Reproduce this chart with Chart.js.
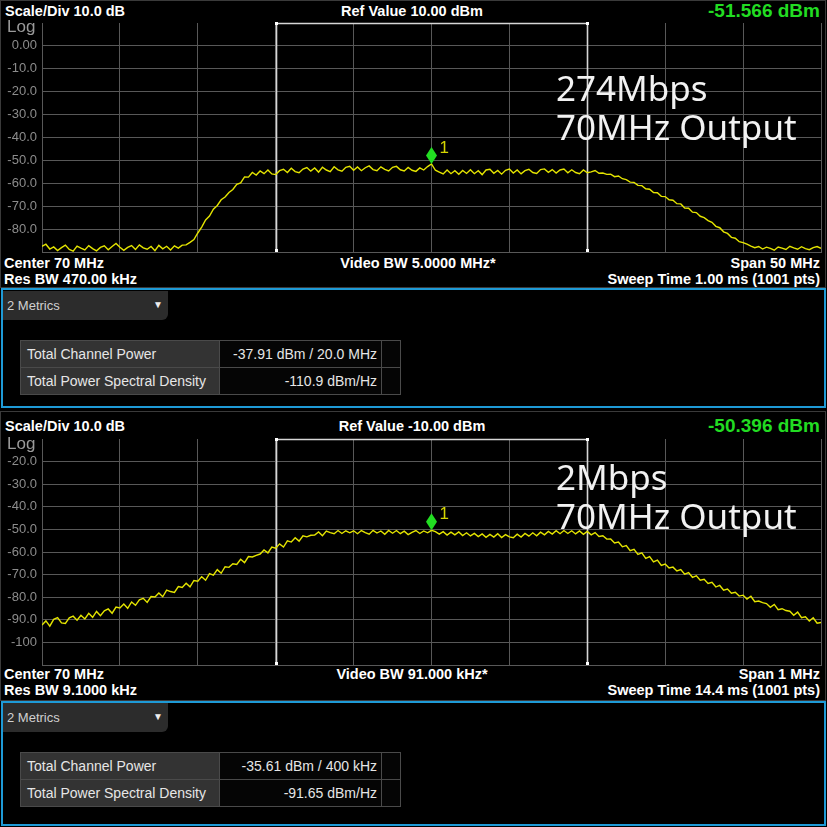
<!DOCTYPE html>
<html>
<head>
<meta charset="utf-8">
<title>70 MHz output spectrum</title>
<script src="https://cdn.jsdelivr.net/npm/chart.js@4.4.1/dist/chart.umd.min.js"></script>
<style>
  html, body { margin:0; padding:0; background:#000; }
  #screen { position:relative; width:827px; height:827px; background:#000; overflow:hidden;
            font-family:"Liberation Sans", Arial, sans-serif; }
  .frame { position:absolute; box-sizing:border-box; border:1px solid #3a3a3a; }
  .metricsFrame { position:absolute; box-sizing:border-box; border:2px solid #1e9ad6; }
  .lbl { position:absolute; white-space:nowrap; color:#fff; font-weight:bold; font-size:14.5px; line-height:16px; }
  .ctr { transform:translateX(-50%); }
  .readout { position:absolute; right:7px; white-space:nowrap; color:#22dc22; font-weight:bold; font-size:19px; line-height:20px; }
  .log { position:absolute; left:7px; color:#9a9a9a; font-size:17px; line-height:18px; }
  .note { position:absolute; left:556px; color:#f2f2f2; font-family:"Noto Sans", sans-serif; font-size:35px; line-height:39px; white-space:nowrap; }
  canvas { position:absolute; left:0; }
  .dd { position:absolute; left:3px; width:165px; height:29px; background:#2c2c2c; border-radius:0 0 6px 0; }
  .dd span { position:absolute; left:4px; top:7px; font-size:13px; line-height:15px; color:#d0d0d0; }
  .dd i { position:absolute; right:5px; top:8px; font-style:normal; font-size:10px; line-height:12px; color:#eee; }
  table.mt { position:absolute; left:20px; border-collapse:collapse; table-layout:fixed; }
  table.mt td { border:1px solid #4a4a4a; font-size:14px; color:#e6e6e6; white-space:nowrap; padding:0; }
  table.mt td.n { width:192px; padding-left:6px; background:#333; }
  table.mt td.v { width:157px; padding-right:4px; text-align:right; background:#050505; }
  table.mt td.e { width:18px; background:#050505; }
  table.mt tr { height:27px; }
</style>
</head>
<body>
<div id="screen">
  <!-- upper trace window -->
  <div class="frame" style="left:0;top:0;width:826px;height:288px;"></div>
  <canvas id="topChart" width="827" height="231" style="top:22px;"></canvas>
  <div class="lbl" id="topScale" style="left:5px;top:3px;"></div>
  <div class="lbl ctr" id="topRef" style="left:412px;top:3px;"></div>
  <div class="readout" id="topReadout" style="top:1px;"></div>
  <div class="log" style="top:18px;">Log</div>
  <div class="lbl" id="topCenter" style="left:4px;top:255px;"></div>
  <div class="lbl ctr" id="topVbw" style="left:418px;top:255px;"></div>
  <div class="lbl" id="topSpan" style="right:7px;top:255px;"></div>
  <div class="lbl" id="topRbw" style="left:4px;top:271px;"></div>
  <div class="lbl" id="topSweep" style="right:7px;top:271px;"></div>
  <div class="note" id="topNote" style="top:68px;"></div>

  <!-- upper metrics window -->
  <div class="metricsFrame" style="left:1px;top:288px;width:825px;height:120px;"></div>
  <div class="dd" style="top:291px;"><span>2 Metrics</span><i>▼</i></div>
  <table class="mt" id="topTable" style="top:340px;"></table>

  <!-- lower trace window -->
  <div class="frame" style="left:0;top:411px;width:826px;height:290px;"></div>
  <canvas id="botChart" width="827" height="228" style="top:438px;"></canvas>
  <div class="lbl" id="botScale" style="left:5px;top:418px;"></div>
  <div class="lbl ctr" id="botRef" style="left:412px;top:418px;"></div>
  <div class="readout" id="botReadout" style="top:416px;"></div>
  <div class="log" style="top:435px;">Log</div>
  <div class="lbl" id="botCenter" style="left:4px;top:666px;"></div>
  <div class="lbl ctr" id="botVbw" style="left:412px;top:666px;"></div>
  <div class="lbl" id="botSpan" style="right:7px;top:666px;"></div>
  <div class="lbl" id="botRbw" style="left:4px;top:682px;"></div>
  <div class="lbl" id="botSweep" style="right:7px;top:682px;"></div>
  <div class="note" id="botNote" style="top:457px;"></div>

  <!-- lower metrics window -->
  <div class="metricsFrame" style="left:1px;top:701px;width:825px;height:125px;"></div>
  <div class="dd" style="top:703px;"><span>2 Metrics</span><i>▼</i></div>
  <table class="mt" id="botTable" style="top:752px;"></table>
</div>

<script>
// ---- Sweep settings -------------------------------------------------------
const CENTER_MHZ = 70;
const TOP_START_MHZ = 45,   TOP_SPAN_MHZ = 50;    // Span 50 MHz
const BOT_START_MHZ = 69.5, BOT_SPAN_MHZ = 1;     // Span 1 MHz
const TOP_CHANNEL_MHZ = 20.0;                     // integration bandwidth
const BOT_CHANNEL_MHZ = 0.4;

const TOP_Y_MIN = -90,  TOP_Y_MAX = 10;
const BOT_Y_MIN = -110, BOT_Y_MAX = -10;

// y tick labels (the reference level row is labelled "Log" instead)
const TOP_Y_VALUES = [0, -10, -20, -30, -40, -50, -60, -70, -80];
const TOP_Y_LABELS = ['0.00', '-10.0', '-20.0', '-30.0', '-40.0', '-50.0', '-60.0', '-70.0', '-80.0'];
const BOT_Y_VALUES = [-20, -30, -40, -50, -60, -70, -80, -90, -100];
const BOT_Y_LABELS = ['-20.0', '-30.0', '-40.0', '-50.0', '-60.0', '-70.0', '-80.0', '-90.0', '-100'];

// ---- Trace levels, dBm (sweep decimated to 201 points, centre = index 100) ----
const TOP_LEVELS = [
  -87.5,-86.6,-88.7,-87.8,-89.4,-88.1,-87.0,-88.9,-89.6,-87.4,
  -88.3,-89.1,-87.2,-88.5,-89.5,-88.0,-87.3,-89.0,-87.6,-86.3,
  -87.9,-89.3,-88.0,-87.2,-88.9,-86.9,-88.2,-88.8,-87.6,-89.4,
  -87.1,-88.6,-87.5,-89.1,-87.3,-88.3,-87.0,-86.9,-85.8,-84.6,
  -81.7,-79.1,-76.0,-74.3,-71.3,-69.7,-67.2,-66.0,-64.0,-62.7,
  -60.5,-59.8,-57.2,-57.3,-55.3,-56.4,-54.6,-55.8,-54.2,-55.9,
  -56.2,-54.5,-53.9,-55.3,-53.4,-54.9,-55.4,-53.8,-53.1,-54.7,
  -53.3,-55.1,-53.0,-54.2,-54.9,-52.8,-54.1,-54.7,-53.0,-52.6,
  -54.3,-52.9,-54.5,-53.2,-52.4,-54.0,-54.5,-52.8,-53.9,-54.6,
  -53.0,-52.6,-54.1,-54.6,-53.1,-54.3,-54.8,-53.3,-54.2,-52.7,
  -51.566,
  -54.3,-55.1,-55.9,-54.2,-55.8,-54.5,-56.1,-54.4,-55.7,-54.1,
  -55.8,-54.5,-56.2,-54.2,-53.9,-55.6,-54.4,-56.0,-54.3,-53.8,
  -55.5,-54.2,-55.9,-54.5,-53.9,-55.3,-55.7,-54.0,-53.7,-55.2,
  -54.0,-55.5,-54.2,-53.8,-55.4,-54.1,-55.3,-55.8,-54.2,-55.4,
  -55.0,-54.4,-55.6,-55.5,-56.1,-56.0,-57.1,-56.8,-58.0,-58.4,
  -59.5,-59.6,-60.9,-61.0,-62.4,-62.6,-64.0,-64.1,-65.7,-65.8,
  -67.2,-67.4,-68.9,-69.0,-70.8,-70.9,-72.6,-72.8,-74.4,-75.0,
  -76.3,-77.0,-78.8,-79.4,-81.2,-81.9,-83.6,-84.0,-85.5,-85.9,
  -86.6,-87.4,-88.1,-87.6,-88.7,-87.9,-88.4,-89.2,-87.8,-88.3,
  -88.9,-87.5,-88.2,-88.8,-87.7,-88.5,-89.0,-88.1,-87.6,-88.4
];

const BOT_LEVELS = [
  -92.3,-90.5,-92.8,-89.8,-89.0,-91.4,-91.6,-89.1,-88.4,-90.2,
  -88.0,-89.6,-87.1,-88.9,-86.3,-88.2,-86.0,-85.2,-87.1,-84.4,
  -84.8,-83.0,-84.9,-82.1,-83.6,-81.2,-80.5,-82.3,-79.7,-79.9,
  -78.1,-79.8,-76.9,-77.5,-77.9,-75.3,-75.7,-73.8,-75.4,-72.6,
  -72.9,-70.9,-72.5,-69.6,-70.2,-67.8,-69.4,-66.5,-66.8,-65.2,
  -65.5,-63.2,-64.7,-62.0,-62.2,-61.5,-60.9,-59.1,-60.4,-57.8,
  -58.3,-56.4,-57.8,-55.1,-55.6,-53.7,-55.2,-52.8,-53.3,-52.6,
  -52.5,-51.1,-52.8,-50.7,-51.4,-51.9,-50.5,-51.8,-50.6,-51.5,
  -50.6,-51.9,-50.5,-51.4,-52.1,-50.4,-51.6,-50.7,-52.2,-50.5,
  -51.7,-50.5,-51.9,-50.8,-52.3,-51.3,-50.5,-51.8,-50.7,-51.5,
  -50.396,
  -51.0,-52.1,-51.0,-52.5,-51.2,-52.4,-51.1,-52.7,-51.5,-52.9,
  -51.8,-53.2,-52.0,-53.5,-52.2,-53.4,-51.9,-53.6,-52.3,-53.3,
  -53.7,-52.1,-53.4,-51.8,-53.0,-51.5,-52.8,-51.2,-52.4,-50.9,
  -52.1,-50.6,-51.9,-50.5,-51.8,-50.6,-52.0,-50.7,-52.2,-50.9,
  -52.4,-51.4,-53.1,-52.8,-54.3,-54.2,-56.0,-55.6,-57.7,-57.2,
  -59.4,-58.8,-61.1,-60.4,-62.8,-62.0,-64.4,-63.6,-65.9,-65.3,
  -67.1,-66.7,-68.4,-67.8,-69.8,-69.1,-71.2,-70.5,-72.5,-72.1,
  -73.9,-73.4,-75.5,-74.8,-76.9,-76.4,-78.2,-77.8,-79.5,-79.1,
  -80.8,-79.6,-82.0,-81.7,-82.4,-82.8,-84.5,-83.2,-85.5,-85.1,
  -85.9,-86.2,-88.0,-86.6,-89.1,-88.7,-90.5,-89.1,-91.5,-91.2
];

// ---- Annotation texts -----------------------------------------------------
const TOP_INFO = {
  scale: 'Scale/Div 10.0 dB', ref: 'Ref Value 10.00 dBm',
  center: 'Center 70 MHz', vbw: 'Video BW 5.0000 MHz*', span: 'Span 50 MHz',
  rbw: 'Res BW 470.00 kHz', sweep: 'Sweep Time 1.00 ms (1001 pts)'
};
const BOT_INFO = {
  scale: 'Scale/Div 10.0 dB', ref: 'Ref Value -10.00 dBm',
  center: 'Center 70 MHz', vbw: 'Video BW 91.000 kHz*', span: 'Span 1 MHz',
  rbw: 'Res BW 9.1000 kHz', sweep: 'Sweep Time 14.4 ms (1001 pts)'
};
const TOP_NOTE = ['274Mbps', '70MHz Output'];
const BOT_NOTE = ['2Mbps', '70MHz Output'];

const METRIC_NAMES = ['Total Channel Power', 'Total Power Spectral Density'];
const TOP_METRIC_VALUES = ['-37.91 dBm / 20.0 MHz', '-110.9 dBm/Hz'];
const BOT_METRIC_VALUES = ['-35.61 dBm / 400 kHz', '-91.65 dBm/Hz'];

// ---- Helpers --------------------------------------------------------------
const GRID = '#585858';
const TRACE = '#e4e400';

function toPoints(levels, start, span) {
  const n = levels.length;
  return levels.map((v, i) => ({ x: start + span * i / (n - 1), y: v }));
}
function markerIndex(levels, start, span) {
  return Math.round((CENTER_MHZ - start) / span * (levels.length - 1));
}

// channel bracket under the trace, marker diamond over it
const analyzerOverlay = {
  id: 'analyzerOverlay',
  beforeDatasetsDraw(chart, args, o) {
    const { ctx, chartArea: a, scales: { x } } = chart;
    const xl = Math.round(x.getPixelForValue(o.center - o.channel / 2)) + 0.5;
    const xr = Math.round(x.getPixelForValue(o.center + o.channel / 2)) + 0.5;
    ctx.save();
    ctx.strokeStyle = '#d6d6d6';
    ctx.lineWidth = 1.6;
    ctx.beginPath();
    ctx.moveTo(xl, a.bottom);
    ctx.lineTo(xl, a.top + 0.5);
    ctx.lineTo(xr, a.top + 0.5);
    ctx.lineTo(xr, a.bottom);
    ctx.stroke();
    ctx.fillStyle = '#ffffff';
    [xl, xr].forEach(px => {
      ctx.fillRect(px - 1.5, a.bottom - 3, 3, 3);
      ctx.fillRect(px - 1.5, a.top - 1, 3, 3);
    });
    ctx.restore();
  },
  afterDatasetsDraw(chart, args, o) {
    const { ctx, scales: { x, y } } = chart;
    const px = x.getPixelForValue(o.markerX);
    const py = y.getPixelForValue(o.markerY);
    ctx.save();
    ctx.fillStyle = '#22dd22';
    ctx.beginPath();
    ctx.moveTo(px, py);
    ctx.lineTo(px + 5.5, py - 8.5);
    ctx.lineTo(px, py - 17);
    ctx.lineTo(px - 5.5, py - 8.5);
    ctx.closePath();
    ctx.fill();
    ctx.fillStyle = '#d6d600';
    ctx.font = '17px "Liberation Sans", Arial, sans-serif';
    ctx.textBaseline = 'middle';
    ctx.textAlign = 'left';
    ctx.fillText('1', px + 8, py - 16);
    ctx.restore();
  }
};

// keep the plot box exactly where the canvas padding puts it
function noScalePadding(s) {
  s.paddingTop = 0; s.paddingBottom = 0; s.paddingLeft = 0; s.paddingRight = 0;
}

function makeChart(id, levels, start, span, yMin, yMax, yValues, yLabels, channel) {
  const mi = markerIndex(levels, start, span);
  const pts = toPoints(levels, start, span);
  return new Chart(document.getElementById(id), {
    type: 'line',
    data: {
      datasets: [{
        data: pts,
        borderColor: TRACE,
        borderWidth: 1.4,
        pointRadius: 0,
        tension: 0,
        fill: false
      }]
    },
    plugins: [analyzerOverlay],
    options: {
      responsive: false,
      animation: false,
      events: [],
      layout: { padding: { top: 1, bottom: 1, left: 0, right: 6 } },
      plugins: {
        legend: { display: false },
        tooltip: { enabled: false },
        analyzerOverlay: { center: CENTER_MHZ, channel: channel, markerX: pts[mi].x, markerY: pts[mi].y }
      },
      scales: {
        x: {
          type: 'linear', min: start, max: start + span,
          ticks: { display: false, count: 11 },
          grid: { color: GRID, drawTicks: false },
          border: { color: GRID },
          afterFit: s => { s.height = 0; noScalePadding(s); }
        },
        y: {
          min: yMin, max: yMax,
          ticks: {
            stepSize: 10, padding: 5, color: '#8c8c8c',
            font: { family: '"Liberation Sans", Arial, sans-serif', size: 13 },
            callback: v => { const k = yValues.indexOf(v); return k < 0 ? null : yLabels[k]; }
          },
          grid: { color: GRID, drawTicks: false },
          border: { color: GRID },
          afterFit: s => { s.width = 42; noScalePadding(s); }
        }
      }
    }
  });
}

function fillInfo(prefix, info) {
  Object.keys(info).forEach(k => {
    const el = document.getElementById(prefix + k.charAt(0).toUpperCase() + k.slice(1));
    if (el) el.textContent = info[k];
  });
}
function fillNote(id, lines) {
  const el = document.getElementById(id);
  lines.forEach((t, i) => { if (i) el.appendChild(document.createElement('br')); el.appendChild(document.createTextNode(t)); });
}
function fillTable(id, values) {
  const t = document.getElementById(id);
  METRIC_NAMES.forEach((name, i) => {
    const tr = document.createElement('tr');
    tr.innerHTML = '<td class="n"></td><td class="v"></td><td class="e"></td>';
    tr.children[0].textContent = name;
    tr.children[1].textContent = values[i];
    t.appendChild(tr);
  });
}

fillInfo('top', TOP_INFO);
fillInfo('bot', BOT_INFO);
fillNote('topNote', TOP_NOTE);
fillNote('botNote', BOT_NOTE);
fillTable('topTable', TOP_METRIC_VALUES);
fillTable('botTable', BOT_METRIC_VALUES);

// marker readouts come from the trace value at the centre frequency
document.getElementById('topReadout').textContent =
  TOP_LEVELS[markerIndex(TOP_LEVELS, TOP_START_MHZ, TOP_SPAN_MHZ)].toFixed(3) + ' dBm';
document.getElementById('botReadout').textContent =
  BOT_LEVELS[markerIndex(BOT_LEVELS, BOT_START_MHZ, BOT_SPAN_MHZ)].toFixed(3) + ' dBm';

makeChart('topChart', TOP_LEVELS, TOP_START_MHZ, TOP_SPAN_MHZ, TOP_Y_MIN, TOP_Y_MAX,
          TOP_Y_VALUES, TOP_Y_LABELS, TOP_CHANNEL_MHZ);
makeChart('botChart', BOT_LEVELS, BOT_START_MHZ, BOT_SPAN_MHZ, BOT_Y_MIN, BOT_Y_MAX,
          BOT_Y_VALUES, BOT_Y_LABELS, BOT_CHANNEL_MHZ);
</script>
</body>
</html>
